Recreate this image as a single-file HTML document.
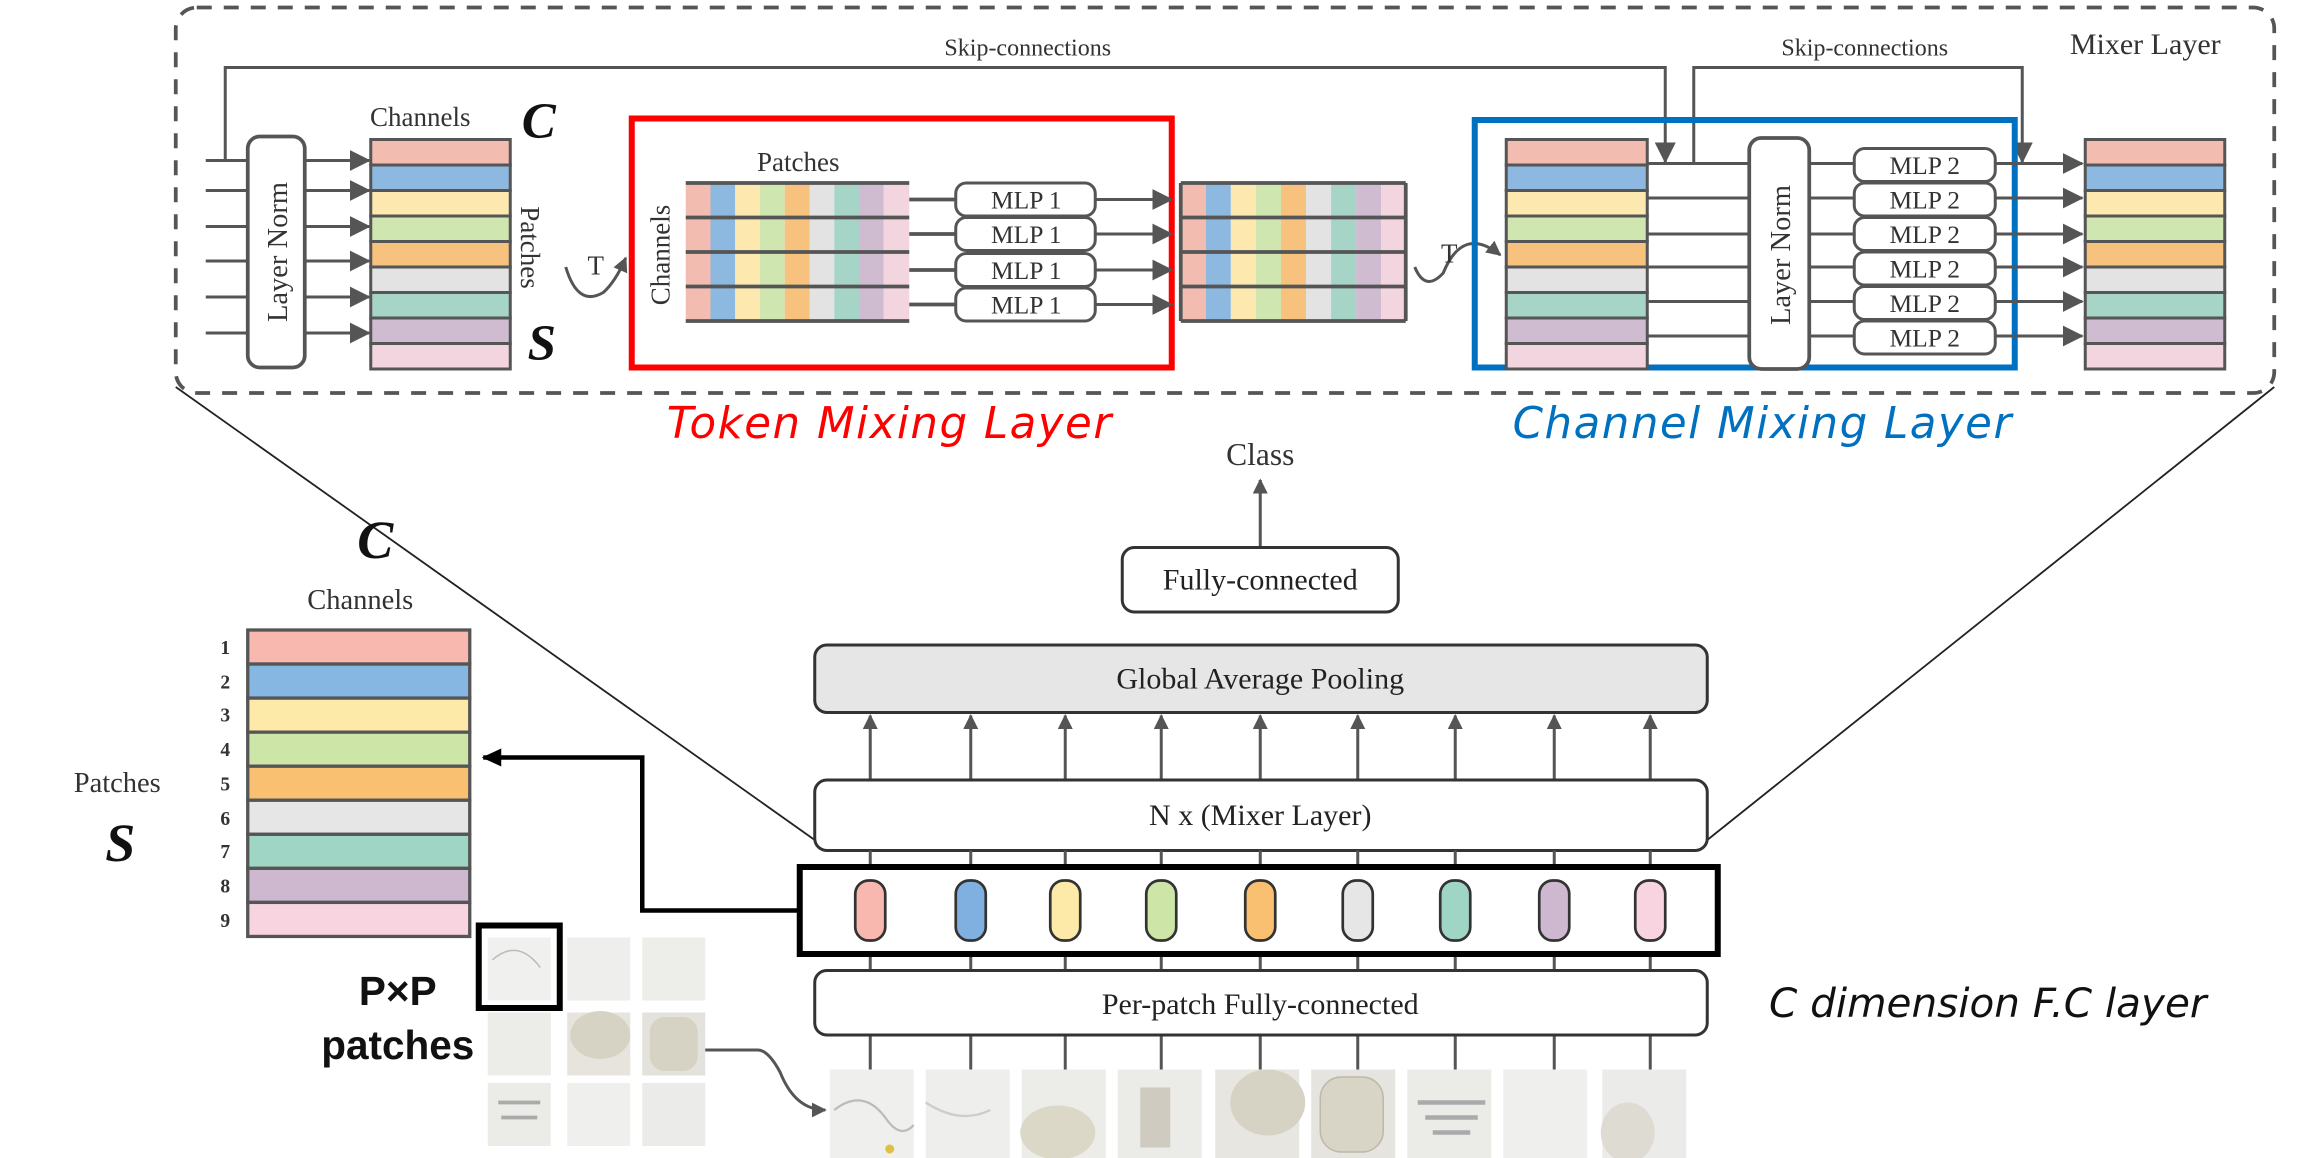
<!DOCTYPE html>
<html><head><meta charset="utf-8"><style>html,body{margin:0;padding:0;background:#fff}svg{display:block}</style></head>
<body>
<svg width="2318" height="1158" viewBox="0 0 1545 772" xmlns="http://www.w3.org/2000/svg" font-family="Liberation Serif, serif">
<defs>
<marker id="ah" markerWidth="10" markerHeight="10" refX="9" refY="5" orient="auto" markerUnits="userSpaceOnUse"><path d="M0,0 L10,5 L0,10 z" fill="#555"/></marker>
<marker id="ahb" markerWidth="14" markerHeight="12" refX="12" refY="6" orient="auto" markerUnits="userSpaceOnUse"><path d="M0,0 L13,6 L0,12 z" fill="#000"/></marker>
<marker id="ahs" markerWidth="14" markerHeight="14" refX="13" refY="7" orient="auto" markerUnits="userSpaceOnUse"><path d="M0,0 L14,7 L0,14 z" fill="#555"/></marker>
</defs>

<rect x="117" y="5" width="1399" height="257" rx="14" fill="none" stroke="#555" stroke-width="2.5" stroke-dasharray="10,8"/>
<text x="1430" y="36" font-size="20" fill="#333" text-anchor="middle">Mixer Layer</text>

<text x="685" y="37" font-size="16" fill="#333" text-anchor="middle">Skip-connections</text>
<text x="1243" y="37" font-size="16" fill="#333" text-anchor="middle">Skip-connections</text>
<polyline points="150,107 150,45 1110,45 1110,108" fill="none" stroke="#555" stroke-width="2" marker-end="url(#ahs)"/>
<polyline points="1129,109 1129,45 1348,45 1348,108" fill="none" stroke="#555" stroke-width="2" marker-end="url(#ahs)"/>

<g stroke="#555" stroke-width="2" fill="none">
<line x1="137" y1="107" x2="165" y2="107"/><line x1="137" y1="127" x2="165" y2="127"/><line x1="137" y1="151" x2="165" y2="151"/><line x1="137" y1="174" x2="165" y2="174"/><line x1="137" y1="198" x2="165" y2="198"/><line x1="137" y1="222" x2="165" y2="222"/>
<line x1="203" y1="107" x2="246" y2="107" marker-end="url(#ahs)"/><line x1="203" y1="127" x2="246" y2="127" marker-end="url(#ahs)"/><line x1="203" y1="151" x2="246" y2="151" marker-end="url(#ahs)"/><line x1="203" y1="174" x2="246" y2="174" marker-end="url(#ahs)"/><line x1="203" y1="198" x2="246" y2="198" marker-end="url(#ahs)"/><line x1="203" y1="222" x2="246" y2="222" marker-end="url(#ahs)"/>
</g>
<rect x="165" y="91" width="38" height="154" rx="8" fill="#fff" stroke="#555" stroke-width="2.5"/>
<text transform="translate(191,168) rotate(-90)" font-size="19" fill="#333" text-anchor="middle">Layer Norm</text>

<g stroke="#555" stroke-width="2">
<rect x="247" y="93" width="93" height="17" fill="#f2bcb0"/><rect x="247" y="110" width="93" height="17" fill="#8db8e0"/><rect x="247" y="127" width="93" height="17" fill="#fde9b0"/><rect x="247" y="144" width="93" height="17" fill="#d0e6b0"/><rect x="247" y="161" width="93" height="17" fill="#f6c27e"/><rect x="247" y="178" width="93" height="17" fill="#e3e3e3"/><rect x="247" y="195" width="93" height="17" fill="#a6d5c8"/><rect x="247" y="212" width="93" height="17" fill="#cfbcd1"/><rect x="247" y="229" width="93" height="17" fill="#f3d5e0"/>
</g>
<text x="280" y="84" font-size="18" fill="#333" text-anchor="middle">Channels</text>
<text x="359" y="92" font-size="34" font-style="italic" font-weight="bold" fill="#111" text-anchor="middle">C</text>
<text transform="translate(347,165) rotate(90)" font-size="18" fill="#333" text-anchor="middle">Patches</text>
<text x="361" y="240" font-size="34" font-style="italic" font-weight="bold" fill="#111" text-anchor="middle">S</text>

<path d="M377,178 Q385,205 402,195 Q410,188 417,172" fill="none" stroke="#555" stroke-width="2" marker-end="url(#ah)"/>
<text x="397" y="183" font-size="18" fill="#333" text-anchor="middle">T</text>

<rect x="421" y="79" width="360" height="166" fill="none" stroke="#ff0000" stroke-width="4"/>
<text x="532" y="114" font-size="18" fill="#333" text-anchor="middle">Patches</text>
<text transform="translate(446,170) rotate(-90)" font-size="18" fill="#333" text-anchor="middle">Channels</text>
<g>
<rect x="457" y="122" width="16.5" height="92" fill="#f2bcb0"/><rect x="473.5" y="122" width="16.5" height="92" fill="#8db8e0"/><rect x="490" y="122" width="16.5" height="92" fill="#fde9b0"/><rect x="506.5" y="122" width="16.5" height="92" fill="#d0e6b0"/><rect x="523" y="122" width="16.5" height="92" fill="#f6c27e"/><rect x="539.5" y="122" width="16.5" height="92" fill="#e3e3e3"/><rect x="556" y="122" width="16.5" height="92" fill="#a6d5c8"/><rect x="572.5" y="122" width="16.5" height="92" fill="#cfbcd1"/><rect x="589" y="122" width="17" height="92" fill="#f3d5e0"/>
</g>
<g stroke="#555" stroke-width="2.5" fill="none">
<line x1="457" y1="122" x2="606" y2="122"/><line x1="457" y1="145" x2="606" y2="145"/><line x1="457" y1="168" x2="606" y2="168"/><line x1="457" y1="191" x2="606" y2="191"/><line x1="457" y1="214" x2="606" y2="214"/>
<line x1="606" y1="133" x2="637" y2="133"/><line x1="606" y1="156" x2="637" y2="156"/><line x1="606" y1="180" x2="637" y2="180"/><line x1="606" y1="203" x2="637" y2="203"/>
</g>
<g stroke="#555" stroke-width="2" fill="none">
<line x1="730" y1="133" x2="781" y2="133" marker-end="url(#ahs)"/><line x1="730" y1="156" x2="781" y2="156" marker-end="url(#ahs)"/><line x1="730" y1="180" x2="781" y2="180" marker-end="url(#ahs)"/><line x1="730" y1="203" x2="781" y2="203" marker-end="url(#ahs)"/>
</g>
<g stroke="#555" stroke-width="2" fill="#fff">
<rect x="637" y="122" width="93" height="22" rx="7"/><rect x="637" y="145" width="93" height="22" rx="7"/><rect x="637" y="169" width="93" height="22" rx="7"/><rect x="637" y="192" width="93" height="22" rx="7"/>
</g>
<g font-size="17" fill="#333" text-anchor="middle">
<text x="684" y="139">MLP 1</text><text x="684" y="162">MLP 1</text><text x="684" y="186">MLP 1</text><text x="684" y="209">MLP 1</text>
</g>

<g>
<rect x="787" y="122" width="16.7" height="92" fill="#f2bcb0"/><rect x="803.7" y="122" width="16.7" height="92" fill="#8db8e0"/><rect x="820.4" y="122" width="16.7" height="92" fill="#fde9b0"/><rect x="837.1" y="122" width="16.7" height="92" fill="#d0e6b0"/><rect x="853.8" y="122" width="16.7" height="92" fill="#f6c27e"/><rect x="870.5" y="122" width="16.7" height="92" fill="#e3e3e3"/><rect x="887.2" y="122" width="16.7" height="92" fill="#a6d5c8"/><rect x="903.9" y="122" width="16.7" height="92" fill="#cfbcd1"/><rect x="920.6" y="122" width="16.7" height="92" fill="#f3d5e0"/>
</g>
<g stroke="#555" stroke-width="2.5">
<line x1="787" y1="122" x2="937" y2="122"/><line x1="787" y1="145" x2="937" y2="145"/><line x1="787" y1="168" x2="937" y2="168"/><line x1="787" y1="191" x2="937" y2="191"/><line x1="787" y1="214" x2="937" y2="214"/>
<line x1="787" y1="122" x2="787" y2="214"/><line x1="937" y1="122" x2="937" y2="214"/>
</g>

<path d="M943,178 Q950,195 962,182 Q975,150 1000,170" fill="none" stroke="#555" stroke-width="2" marker-end="url(#ah)"/>
<text x="966" y="175" font-size="18" fill="#333" text-anchor="middle">T</text>

<rect x="983" y="80" width="360" height="165" fill="none" stroke="#0070c0" stroke-width="4"/>
<g stroke="#555" stroke-width="2">
<rect x="1004" y="93" width="94" height="17" fill="#f2bcb0"/><rect x="1004" y="110" width="94" height="17" fill="#8db8e0"/><rect x="1004" y="127" width="94" height="17" fill="#fde9b0"/><rect x="1004" y="144" width="94" height="17" fill="#d0e6b0"/><rect x="1004" y="161" width="94" height="17" fill="#f6c27e"/><rect x="1004" y="178" width="94" height="17" fill="#e3e3e3"/><rect x="1004" y="195" width="94" height="17" fill="#a6d5c8"/><rect x="1004" y="212" width="94" height="17" fill="#cfbcd1"/><rect x="1004" y="229" width="94" height="17" fill="#f3d5e0"/>
</g>
<g stroke="#555" stroke-width="2" fill="none">
<line x1="1098" y1="109" x2="1237" y2="109"/><line x1="1098" y1="132" x2="1237" y2="132"/><line x1="1098" y1="156" x2="1237" y2="156"/><line x1="1098" y1="178" x2="1237" y2="178"/><line x1="1098" y1="201" x2="1237" y2="201"/><line x1="1098" y1="224" x2="1237" y2="224"/>
<line x1="1325" y1="109" x2="1388" y2="109" marker-end="url(#ahs)"/><line x1="1325" y1="132" x2="1388" y2="132" marker-end="url(#ahs)"/><line x1="1325" y1="156" x2="1388" y2="156" marker-end="url(#ahs)"/><line x1="1325" y1="178" x2="1388" y2="178" marker-end="url(#ahs)"/><line x1="1325" y1="201" x2="1388" y2="201" marker-end="url(#ahs)"/><line x1="1325" y1="224" x2="1388" y2="224" marker-end="url(#ahs)"/>
</g>
<rect x="1166" y="92" width="40" height="154" rx="8" fill="#fff" stroke="#555" stroke-width="2.5"/>
<text transform="translate(1193,170) rotate(-90)" font-size="19" fill="#333" text-anchor="middle">Layer Norm</text>
<g stroke="#555" stroke-width="2" fill="#fff">
<rect x="1236" y="99" width="94" height="22" rx="7"/><rect x="1236" y="122" width="94" height="22" rx="7"/><rect x="1236" y="145" width="94" height="22" rx="7"/><rect x="1236" y="168" width="94" height="22" rx="7"/><rect x="1236" y="191" width="94" height="22" rx="7"/><rect x="1236" y="214" width="94" height="22" rx="7"/>
</g>
<g font-size="17" fill="#333" text-anchor="middle">
<text x="1283" y="116">MLP 2</text><text x="1283" y="139">MLP 2</text><text x="1283" y="162">MLP 2</text><text x="1283" y="185">MLP 2</text><text x="1283" y="208">MLP 2</text><text x="1283" y="231">MLP 2</text>
</g>
<g stroke="#555" stroke-width="2">
<rect x="1390" y="93" width="93" height="17" fill="#f2bcb0"/><rect x="1390" y="110" width="93" height="17" fill="#8db8e0"/><rect x="1390" y="127" width="93" height="17" fill="#fde9b0"/><rect x="1390" y="144" width="93" height="17" fill="#d0e6b0"/><rect x="1390" y="161" width="93" height="17" fill="#f6c27e"/><rect x="1390" y="178" width="93" height="17" fill="#e3e3e3"/><rect x="1390" y="195" width="93" height="17" fill="#a6d5c8"/><rect x="1390" y="212" width="93" height="17" fill="#cfbcd1"/><rect x="1390" y="229" width="93" height="17" fill="#f3d5e0"/>
</g>

<text x="593" y="292" font-size="29" font-style="italic" fill="#ff0000" text-anchor="middle" font-family="DejaVu Sans, sans-serif" letter-spacing="1">Token Mixing Layer</text>
<text x="1175" y="292" font-size="29" font-style="italic" fill="#0070c0" text-anchor="middle" font-family="DejaVu Sans, sans-serif" letter-spacing="1">Channel Mixing Layer</text>

<line x1="117" y1="258" x2="543" y2="560" stroke="#222" stroke-width="1.2"/>
<line x1="1516" y1="258" x2="1138" y2="560" stroke="#222" stroke-width="1.2"/>

<text x="840" y="310" font-size="21" fill="#333" text-anchor="middle">Class</text>
<line x1="840" y1="364" x2="840" y2="320" stroke="#555" stroke-width="2" marker-end="url(#ah)"/>
<rect x="748" y="365" width="184" height="43" rx="8" fill="#fff" stroke="#333" stroke-width="2"/>
<text x="840" y="393" font-size="20" fill="#222" text-anchor="middle">Fully-connected</text>
<rect x="543" y="430" width="595" height="45" rx="8" fill="#e6e6e6" stroke="#333" stroke-width="2"/>
<text x="840" y="459" font-size="20" fill="#222" text-anchor="middle">Global Average Pooling</text>
<g stroke="#555" stroke-width="2" fill="none">
<line x1="580" y1="519" x2="580" y2="477" marker-end="url(#ah)"/><line x1="647" y1="519" x2="647" y2="477" marker-end="url(#ah)"/><line x1="710" y1="519" x2="710" y2="477" marker-end="url(#ah)"/><line x1="774" y1="519" x2="774" y2="477" marker-end="url(#ah)"/><line x1="840" y1="519" x2="840" y2="477" marker-end="url(#ah)"/><line x1="905" y1="519" x2="905" y2="477" marker-end="url(#ah)"/><line x1="970" y1="519" x2="970" y2="477" marker-end="url(#ah)"/><line x1="1036" y1="519" x2="1036" y2="477" marker-end="url(#ah)"/><line x1="1100" y1="519" x2="1100" y2="477" marker-end="url(#ah)"/>
</g>
<rect x="543" y="520" width="595" height="47" rx="8" fill="#fff" stroke="#333" stroke-width="2"/>
<text x="840" y="550" font-size="20" fill="#222" text-anchor="middle">N x (Mixer Layer)</text>

<g stroke="#555" stroke-width="2">
<line x1="580" y1="648" x2="580" y2="627"/><line x1="647" y1="648" x2="647" y2="627"/><line x1="710" y1="648" x2="710" y2="627"/><line x1="774" y1="648" x2="774" y2="627"/><line x1="840" y1="648" x2="840" y2="627"/><line x1="905" y1="648" x2="905" y2="627"/><line x1="970" y1="648" x2="970" y2="627"/><line x1="1036" y1="648" x2="1036" y2="627"/><line x1="1100" y1="648" x2="1100" y2="627"/>
<line x1="580" y1="578" x2="580" y2="567"/><line x1="647" y1="578" x2="647" y2="567"/><line x1="710" y1="578" x2="710" y2="567"/><line x1="774" y1="578" x2="774" y2="567"/><line x1="840" y1="578" x2="840" y2="567"/><line x1="905" y1="578" x2="905" y2="567"/><line x1="970" y1="578" x2="970" y2="567"/><line x1="1036" y1="578" x2="1036" y2="567"/><line x1="1100" y1="578" x2="1100" y2="567"/>
<line x1="580" y1="714" x2="580" y2="690"/><line x1="647" y1="714" x2="647" y2="690"/><line x1="710" y1="714" x2="710" y2="690"/><line x1="774" y1="714" x2="774" y2="690"/><line x1="840" y1="714" x2="840" y2="690"/><line x1="905" y1="714" x2="905" y2="690"/><line x1="970" y1="714" x2="970" y2="690"/><line x1="1036" y1="714" x2="1036" y2="690"/><line x1="1100" y1="714" x2="1100" y2="690"/>
</g>
<rect x="533" y="578" width="612" height="58" fill="#fff" stroke="#000" stroke-width="4"/>
<g stroke="#333" stroke-width="1.8">
<rect x="570" y="587" width="20" height="40" rx="9" fill="#f8b8b0"/><rect x="637" y="587" width="20" height="40" rx="9" fill="#7fb0e0"/><rect x="700" y="587" width="20" height="40" rx="9" fill="#fde9a8"/><rect x="764" y="587" width="20" height="40" rx="9" fill="#cde6a8"/><rect x="830" y="587" width="20" height="40" rx="9" fill="#f8c070"/><rect x="895" y="587" width="20" height="40" rx="9" fill="#e6e6e6"/><rect x="960" y="587" width="20" height="40" rx="9" fill="#9fd5c4"/><rect x="1026" y="587" width="20" height="40" rx="9" fill="#cdb8d0"/><rect x="1090" y="587" width="20" height="40" rx="9" fill="#f8d4e0"/>
</g>
<rect x="543" y="647" width="595" height="43" rx="8" fill="#fff" stroke="#333" stroke-width="2"/>
<text x="840" y="676" font-size="20" fill="#222" text-anchor="middle">Per-patch Fully-connected</text>
<text x="1325" y="678" font-size="27" font-style="italic" fill="#111" text-anchor="middle" font-family="DejaVu Sans, sans-serif">C dimension F.C layer</text>

<g>
<rect x="553" y="713" width="56" height="59" fill="#efefed"/><path d="M556,740 Q575,725 590,745 Q600,760 609,750" fill="none" stroke="#bbb" stroke-width="1.5"/><circle cx="593" cy="766" r="3" fill="#e0c040"/>
<rect x="617" y="713" width="56" height="59" fill="#eeeeec"/><path d="M617,735 Q640,750 660,740" fill="none" stroke="#ccc" stroke-width="1.5"/>
<rect x="681" y="713" width="56" height="59" fill="#ecece8"/><ellipse cx="705" cy="755" rx="25" ry="18" fill="#dcd8c8"/>
<rect x="745" y="713" width="56" height="59" fill="#ebebe8"/><rect x="760" y="725" width="20" height="40" fill="#cfcbc0"/>
<rect x="810" y="713" width="56" height="59" fill="#e8e6e0"/><ellipse cx="845" cy="735" rx="25" ry="22" fill="#d6d2c4"/>
<rect x="874" y="713" width="56" height="59" fill="#e6e4de"/><rect x="880" y="718" width="42" height="50" rx="14" fill="#d8d4c6" stroke="#bdb8a8"/>
<rect x="938" y="713" width="56" height="59" fill="#ebebe8"/><path d="M945,735 L990,735 M950,745 L985,745 M955,755 L980,755" stroke="#aaa" stroke-width="3"/>
<rect x="1002" y="713" width="56" height="59" fill="#efefee"/>
<rect x="1068" y="713" width="56" height="59" fill="#ebebea"/><ellipse cx="1085" cy="755" rx="18" ry="20" fill="#dedbd2"/>
</g>

<g>
<rect x="325" y="625" width="42" height="42" fill="#f0f0ee"/><path d="M328,640 Q345,625 360,645" fill="none" stroke="#bbb"/>
<rect x="378" y="625" width="42" height="42" fill="#eeeeec"/>
<rect x="428" y="625" width="42" height="42" fill="#ededea"/>
<rect x="325" y="675" width="42" height="42" fill="#ecece8"/>
<rect x="378" y="675" width="42" height="42" fill="#e6e4dc"/><ellipse cx="400" cy="690" rx="20" ry="16" fill="#d6d2c4"/>
<rect x="428" y="675" width="42" height="42" fill="#e4e2dc"/><rect x="433" y="678" width="32" height="36" rx="10" fill="#d6d2c4"/>
<rect x="325" y="722" width="42" height="42" fill="#ebebe8"/><path d="M332,735 L360,735 M334,745 L358,745" stroke="#aaa" stroke-width="2.5"/>
<rect x="378" y="722" width="42" height="42" fill="#efefee"/>
<rect x="428" y="722" width="42" height="42" fill="#ebebea"/>
</g>
<rect x="319" y="617" width="54" height="55" fill="none" stroke="#000" stroke-width="4"/>
<text x="265" y="670" font-size="27" font-weight="bold" fill="#111" text-anchor="middle" font-family="Liberation Sans, sans-serif">P×P</text>
<text x="265" y="706" font-size="27" font-weight="bold" fill="#111" text-anchor="middle" font-family="Liberation Sans, sans-serif">patches</text>
<path d="M470,700 L505,700 Q512,700 520,715 Q530,740 550,740" fill="none" stroke="#555" stroke-width="2" marker-end="url(#ah)"/>

<polyline points="533,607 428,607 428,505 322,505" fill="none" stroke="#000" stroke-width="3" marker-end="url(#ahb)"/>

<text x="250" y="372" font-size="36" font-style="italic" font-weight="bold" fill="#111" text-anchor="middle">C</text>
<text x="240" y="406" font-size="19" fill="#333" text-anchor="middle">Channels</text>
<g stroke="#555" stroke-width="2.2">
<rect x="165" y="420" width="148" height="22.7" fill="#f8b8b0"/><rect x="165" y="442.7" width="148" height="22.7" fill="#86b6e2"/><rect x="165" y="465.4" width="148" height="22.7" fill="#fde9a8"/><rect x="165" y="488.1" width="148" height="22.7" fill="#cde6a8"/><rect x="165" y="510.8" width="148" height="22.7" fill="#f8c070"/><rect x="165" y="533.5" width="148" height="22.7" fill="#e6e6e6"/><rect x="165" y="556.2" width="148" height="22.7" fill="#9fd5c4"/><rect x="165" y="578.9" width="148" height="22.7" fill="#cdb8d0"/><rect x="165" y="601.6" width="148" height="22.7" fill="#f8d4e0"/>
</g>
<g font-size="13" font-weight="bold" fill="#333" text-anchor="middle">
<text x="150" y="436">1</text><text x="150" y="459">2</text><text x="150" y="481">3</text><text x="150" y="504">4</text><text x="150" y="527">5</text><text x="150" y="550">6</text><text x="150" y="572">7</text><text x="150" y="595">8</text><text x="150" y="618">9</text>
</g>
<text x="78" y="528" font-size="19" fill="#333" text-anchor="middle">Patches</text>
<text x="80" y="574" font-size="36" font-style="italic" font-weight="bold" fill="#111" text-anchor="middle">S</text>
</svg>
</body></html>
